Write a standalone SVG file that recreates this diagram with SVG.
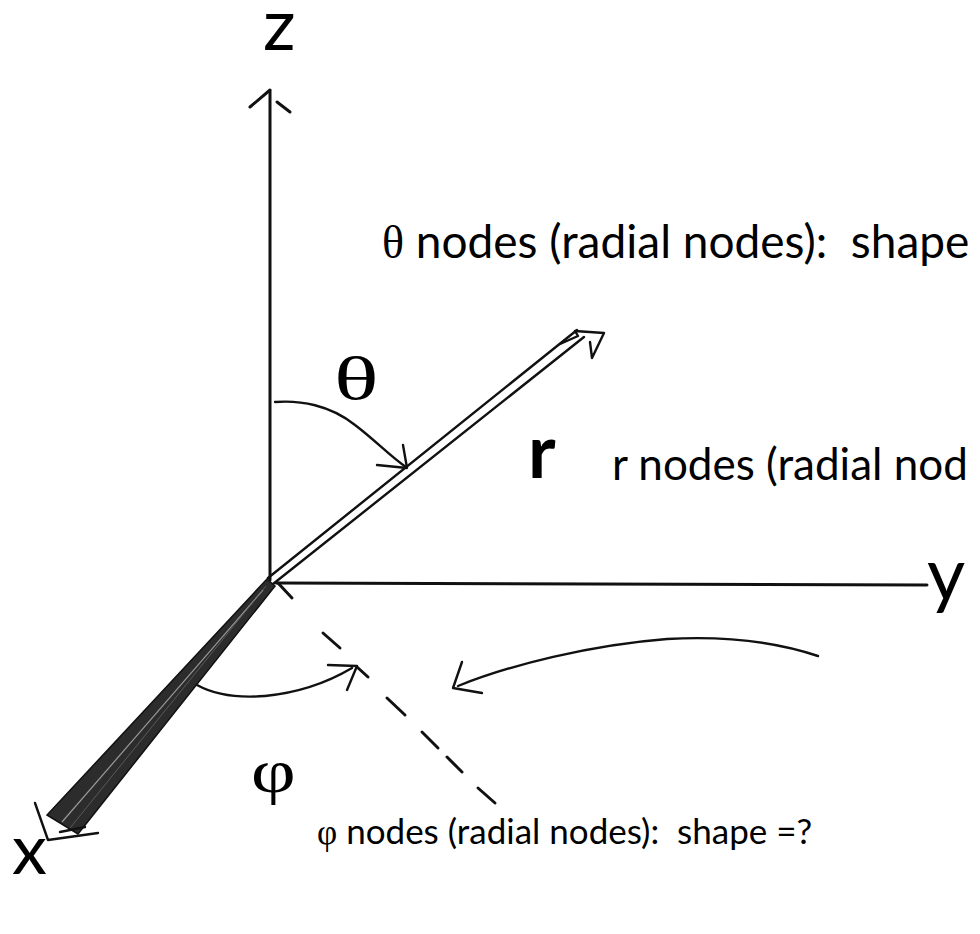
<svg xmlns="http://www.w3.org/2000/svg" width="980" height="934" viewBox="0 0 980 934">
<style>
.ax{stroke:#111;stroke-width:3;fill:none;stroke-linecap:round;stroke-linejoin:round}
.thin{stroke:#111;stroke-width:2.4;fill:none;stroke-linecap:round;stroke-linejoin:round}
.lbl{font-family:Lato,"Open Sans",sans-serif;fill:#000}
.gr{font-family:"Liberation Serif","DejaVu Serif",serif;fill:#000}
.txt{font-family:Lato,"Open Sans",sans-serif;fill:#000;white-space:pre}
</style>
<rect width="980" height="934" fill="#fff"/>
<g id="connectors">
  <g id="z-axis">
    <line class="ax" x1="270" y1="580" x2="270" y2="91"/>
    <polyline class="ax" points="250,107 270,90"/>
    <line class="ax" x1="277" y1="102" x2="290" y2="112"/>
  </g>
  <g id="y-axis">
    <line class="ax" x1="276" y1="583" x2="927" y2="585"/>
  </g>
  <g id="r-vector">
    <line class="thin" x1="268" y1="578" x2="577" y2="330"/>
    <line class="thin" x1="273" y1="584" x2="584" y2="337"/>
    <polyline class="thin" points="560,344 578,336 575,331 604,333 592,358 590,342"/>
  </g>
  <g id="x-axis">
    <polygon points="267,579 275,586 78,834 47,815" fill="#2c2c2c" stroke="#111" stroke-width="1.5"/>
    <line x1="263" y1="590" x2="62" y2="822" stroke="#999" stroke-width="1.2"/>
    <line x1="266" y1="586" x2="70" y2="828" stroke="#666" stroke-width="0.8"/>
    <polyline class="thin" points="35,803 48,840 98,833"/>
    <line class="thin" x1="60" y1="832" x2="85" y2="827"/>
  </g>
  <g id="theta-arc">
    <path class="thin" d="M275,402 C300,400 330,405 355,425 C375,440 392,458 406,467"/>
    <polyline class="thin" points="377,465 407,468 403,445"/>
  </g>
  <g id="phi-arc">
    <path class="thin" d="M197,685 C215,695 240,698 265,696 C295,693 325,684 352,668"/>
    <polyline class="thin" points="328,665 357,666 347,690"/>
  </g>
  <g id="projection">
    <line class="ax" x1="278" y1="583" x2="292" y2="598"/>
    <line class="ax" x1="323" y1="633" x2="340" y2="648"/>
    <line class="ax" x1="357" y1="667" x2="368" y2="677"/>
    <line class="ax" x1="387" y1="698" x2="405" y2="715"/>
    <line class="ax" x1="422" y1="732" x2="438" y2="748"/>
    <line class="ax" x1="447" y1="757" x2="462" y2="772"/>
    <line class="ax" x1="478" y1="788" x2="495" y2="803"/>
  </g>
  <g id="rotation-arrow">
    <path class="thin" d="M818,656 C770,640 720,636 667,639 C590,645 510,665 458,686"/>
    <polyline class="thin" points="462,662 453,688 482,693"/>
  </g>
</g>
<g id="label-z"><text class="lbl" x="263" y="50" font-size="72">z</text></g>
<g id="label-y"><text class="lbl" x="927" y="600" font-size="74">y</text></g>
<g id="label-x"><text class="lbl" x="12" y="874" font-size="70">x</text></g>
<g id="label-r"><text class="lbl" x="528" y="478" font-size="74" font-weight="bold">r</text></g>
<g id="label-theta"><text class="gr" transform="translate(334,399) scale(1.5,1)" x="0" y="0" font-size="62">θ</text></g>
<g id="label-phi"><text class="gr" transform="translate(251,792) scale(1.25,1)" x="0" y="0" font-size="62">φ</text></g>
<g id="text-theta"><text class="txt" x="382" y="258" font-size="46"><tspan class="gr">θ</tspan> nodes (radial nodes):  shape</text></g>
<g id="text-r"><text class="txt" x="612" y="480" font-size="44">r nodes (radial nod</text></g>
<g id="text-phi"><text class="txt" x="317" y="844" font-size="35"><tspan class="gr">φ</tspan> nodes (radial nodes):  shape =?</text></g>
</svg>
